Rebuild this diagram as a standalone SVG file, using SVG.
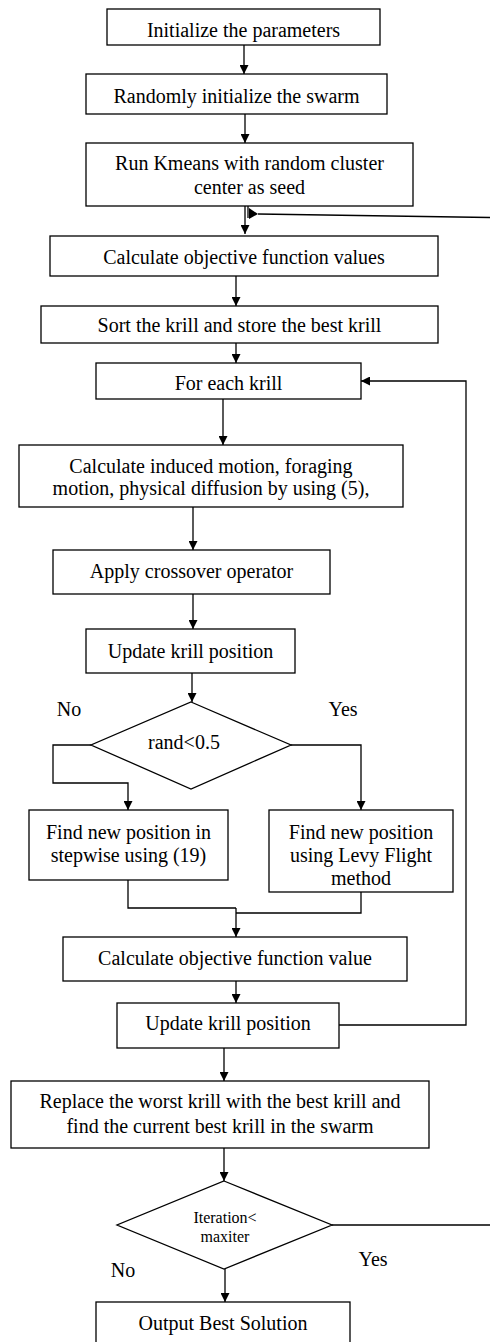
<svg xmlns="http://www.w3.org/2000/svg" width="490" height="1342" viewBox="0 0 490 1342">
<defs>
<marker id="ah" viewBox="0 0 10 10" refX="10" refY="5" markerWidth="9" markerHeight="9" markerUnits="userSpaceOnUse" orient="auto">
<path d="M0,0 L10,5 L0,10 Z" fill="#000"/>
</marker>
</defs>
<style>
.box{fill:#fff;stroke:#000;stroke-width:1.3}
.t{font-family:"Liberation Serif","Times New Roman",serif;font-size:20px;fill:#000;text-anchor:middle;dominant-baseline:central}
.s{font-size:16px}
.c{fill:none;stroke:#000;stroke-width:1.3}
.a{marker-end:url(#ah)}
</style>
<rect width="490" height="1342" fill="#fff"/>
<g id="connectors">
<line class="c a" x1="244" y1="45" x2="244" y2="74"/>
<line class="c a" x1="245" y1="114" x2="245" y2="143"/>
<line class="c a" x1="245" y1="206" x2="245" y2="234"/>
<line class="c" x1="248" y1="206" x2="248" y2="218"/>
<polygon points="249,208 258,214 249,219" fill="#000"/>
<line class="c" x1="258" y1="214" x2="490" y2="217.5"/>
<line class="c a" x1="236" y1="276" x2="236" y2="306"/>
<line class="c a" x1="236" y1="343" x2="236" y2="363"/>
<line class="c a" x1="223" y1="399" x2="223" y2="445"/>
<line class="c a" x1="193" y1="507" x2="193" y2="550"/>
<line class="c a" x1="193" y1="594" x2="193" y2="629"/>
<line class="c a" x1="192" y1="673" x2="192" y2="702"/>
<polyline class="c a" points="91,745 53,745 53,783 128,783 128,810"/>
<polyline class="c a" points="291,745 361,745 361,810"/>
<polyline class="c" points="128,880 128,908 236,908"/>
<polyline class="c" points="361,892 361,913 236,913"/>
<line class="c a" x1="236" y1="908" x2="236" y2="937"/>
<line class="c a" x1="236" y1="981" x2="236" y2="1003"/>
<polyline class="c a" points="339,1025 466,1025 466,381 361,381"/>
<line class="c a" x1="224" y1="1048" x2="224" y2="1081"/>
<line class="c a" x1="224" y1="1146" x2="224" y2="1181"/>
<line class="c" x1="332" y1="1225" x2="490" y2="1225"/>
<line class="c a" x1="225" y1="1269" x2="225" y2="1302"/>
</g>
<g id="n1"><rect class="box" x="107" y="9" width="273" height="36"/><text class="t" x="243.5" y="29.5">Initialize the parameters</text></g>
<g id="n2"><rect class="box" x="86" y="74" width="301" height="40"/><text class="t" x="236.5" y="95.5">Randomly initialize the swarm</text></g>
<g id="n3"><rect class="box" x="86" y="143" width="327" height="63"/><text class="t" x="249.5" y="163">Run Kmeans with random cluster</text><text class="t" x="249.5" y="187">center as seed</text></g>
<g id="n4"><rect class="box" x="50" y="236" width="388" height="40"/><text class="t" x="244" y="257">Calculate objective function values</text></g>
<g id="n5"><rect class="box" x="41" y="306" width="397" height="37"/><text class="t" x="239.5" y="325">Sort the krill and store the best krill</text></g>
<g id="n6"><rect class="box" x="96" y="363" width="265" height="36"/><text class="t" x="228.5" y="383">For each krill</text></g>
<g id="n7"><rect class="box" x="19" y="445" width="384" height="62"/><text class="t" x="211" y="466">Calculate induced motion, foraging</text><text class="t" x="211" y="488">motion, physical diffusion by using (5),</text></g>
<g id="n8"><rect class="box" x="53" y="550" width="277" height="44"/><text class="t" x="191.5" y="571">Apply crossover operator</text></g>
<g id="n9"><rect class="box" x="86" y="629" width="209" height="44"/><text class="t" x="190.5" y="651">Update krill position</text></g>
<g id="d1"><polygon class="box" points="191,702 291,745 191,789 91,745"/><text class="t" x="184" y="742">rand&lt;0.5</text></g>
<text class="t" x="69" y="709">No</text>
<text class="t" x="343" y="709">Yes</text>
<g id="n10"><rect class="box" x="29" y="810" width="199" height="70"/><text class="t" x="128.5" y="832">Find new position in</text><text class="t" x="128.5" y="855">stepwise using (19)</text></g>
<g id="n11"><rect class="box" x="269" y="810" width="184" height="82"/><text class="t" x="361" y="832">Find new position</text><text class="t" x="361" y="855">using Levy Flight</text><text class="t" x="361" y="878">method</text></g>
<g id="n12"><rect class="box" x="63" y="937" width="344" height="44"/><text class="t" x="235" y="958">Calculate objective function value</text></g>
<g id="n13"><rect class="box" x="117" y="1003" width="222" height="45"/><text class="t" x="228" y="1023">Update krill position</text></g>
<g id="n14"><rect class="box" x="11" y="1081" width="418" height="67"/><text class="t" x="220" y="1101">Replace the worst krill with the best krill and</text><text class="t" x="220" y="1126">find the current best krill in the swarm</text></g>
<g id="d2"><polygon class="box" points="224,1181 332,1225 224,1269 117,1225"/><text class="t s" x="225" y="1217">Iteration&lt;</text><text class="t s" x="225" y="1236">maxiter</text></g>
<text class="t" x="373" y="1259">Yes</text>
<text class="t" x="123" y="1270">No</text>
<g id="n15"><rect class="box" x="96" y="1302" width="254" height="45"/><text class="t" x="223" y="1323">Output Best Solution</text></g>
</svg>
